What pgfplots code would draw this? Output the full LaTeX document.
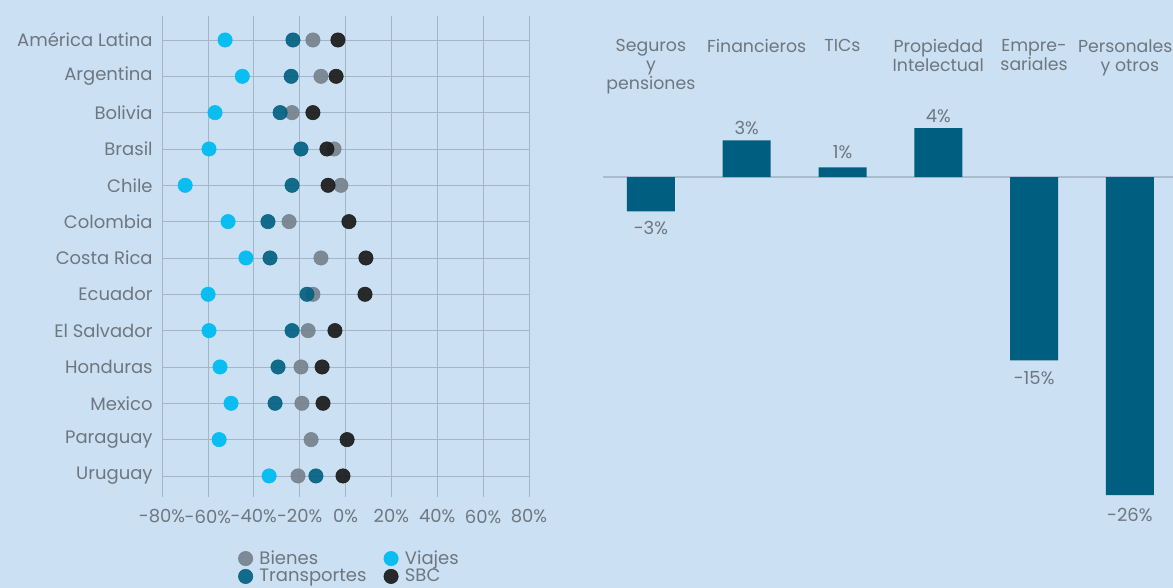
\documentclass[border=0pt]{standalone}
\usepackage{pgfplots}
\pgfplotsset{compat=1.18}
\usepackage{fontspec}
\setmainfont{Poppins}
\definecolor{bg}{HTML}{CBE0F2}
\definecolor{txt}{HTML}{6E7780}
\definecolor{grd}{HTML}{A2B6C8}
\definecolor{zero}{HTML}{A9BDCF}
\definecolor{bienes}{HTML}{75808B}
\definecolor{viajes}{HTML}{00BDF2}
\definecolor{transp}{HTML}{005F80}
\definecolor{sbc}{HTML}{1A1A1A}
\definecolor{barc}{HTML}{005F80}
\begin{document}
\begin{tikzpicture}
\fill[bg] (0,0) rectangle (879.75pt,-441pt);
\path[use as bounding box] (0,0) rectangle (879.75pt,-441pt);
\begin{axis}[at={(121.5pt,-12pt)}, anchor=north west, scale only axis,
  width=275.25pt, height=360.75pt,
  xmin=-80, xmax=80, ymin=-0.66, ymax=12.58, y dir=reverse,
  xtick={-80,-60,...,80},
  xticklabels={-80\%,-60\%,-40\%,-20\%,0\%,20\%,40\%,60\%,80\%},
  ytick={0,...,12},
  yticklabels={América Latina,Argentina,Bolivia,Brasil,Chile,Colombia,Costa Rica,Ecuador,El Salvador,Honduras,Mexico,Paraguay,Uruguay},
  grid=major, major grid style={grd, line width=0.5pt},
  axis line style={draw=none}, major tick style={draw=none},
  tick label style={font=\fontsize{13.5}{15}\selectfont, text=txt},
  xticklabel style={yshift=-6pt},
  yticklabel style={xshift=-3.5pt},
  legend columns=2,
  legend style={draw=none, fill=none, at={(0.512,-0.1)}, anchor=north,
    font=\fontsize{13.5}{14}\selectfont, text=txt,
    /tikz/every odd column/.append style={column sep=3pt},
    /tikz/every even column/.append style={column sep=11pt},
    row sep=-2pt},
  legend cell align=left,
]
\addplot[only marks, mark=*, mark size=5.4pt, color=bienes, opacity=0.9] coordinates {
(-14.2,0) (-10.7,1) (-23.3,2) (-5,3) (-2,4) (-24.6,5) (-10.7,6) (-14.2,7) (-16.3,8) (-19.4,9) (-19,10) (-15,11) (-20.7,12)};
\addplot[only marks, mark=*, mark size=5.4pt, color=viajes, opacity=0.95] coordinates {
(-52.5,0) (-45,1) (-56.9,2) (-59.5,3) (-69.9,4) (-51.2,5) (-43.4,6) (-59.9,7) (-59.5,8) (-54.7,9) (-49.9,10) (-55.1,11) (-33.3,12)};
\addplot[only marks, mark=*, mark size=5.4pt, color=transp, opacity=0.9] coordinates {
(-22.9,0) (-23.7,1) (-28.5,2) (-19.4,3) (-23.3,4) (-33.8,5) (-32.9,6) (-16.8,7) (-23.3,8) (-29.4,9) (-30.7,10) (-12.9,12)};
\addplot[only marks, mark=*, mark size=5.4pt, color=sbc, opacity=0.92] coordinates {
(-3.3,0) (-4.1,1) (-14.2,2) (-8.1,3) (-7.6,4) (1.5,5) (8.9,6) (8.5,7) (-4.6,8) (-10.2,9) (-9.8,10) (0.7,11) (-1.1,12)};
\legend{Bienes,Viajes,Transportes,SBC}
\end{axis}
\begin{axis}[at={(452.25pt,-28.5pt)}, anchor=north west, scale only axis,
  width=427.5pt, height=342.75pt,
  ymin=-26, ymax=11.37, xmin=-0.5, xmax=5.45,
  ybar, bar width=36pt,
  axis line style={draw=none}, major tick style={draw=none}, ytick=\empty,
  xtick={0,...,5},
  xticklabels={{Seguros\\y\\pensiones},{\kern15pt Financieros},TICs,{Propiedad\\Intelectual},{Empre-\\sariales},{\kern-7pt Personales\\y otros}},
  xticklabel pos=upper,
  xticklabel style={align=center, anchor=north, yshift=-2pt, font=\fontsize{13}{14.2}\selectfont, text=txt},
  extra y ticks={0}, extra y tick labels={},
  extra y tick style={grid=major, major grid style={zero, line width=1pt}},
  point meta=explicit symbolic,
  visualization depends on={value \thisrow{anc} \as \anc},
  visualization depends on={value \thisrow{dy} \as \dy},
  nodes near coords={\pgfplotspointmeta\%},
  nodes near coords style={font=\fontsize{13.5}{15}\selectfont, text=txt, anchor=\anc, inner sep=4pt, yshift=\dy pt},
  clip=false,
]
\addplot[fill=barc, draw=none] table[meta=label] {
x y label anc dy
0 -2.8 -3 north -3
1 3.0 3 south 0
2 0.8 1 south 2.5
3 4.0 4 south 0
4 -15.0 -15 north -4
5 -26.0 -26 north -6
};
\end{axis}
\end{tikzpicture}
\end{document}
